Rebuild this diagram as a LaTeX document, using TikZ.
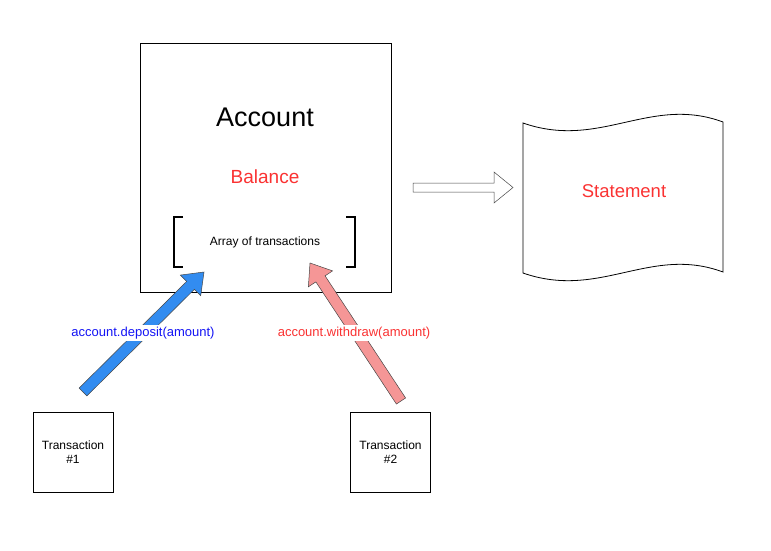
\documentclass[tikz,border=0pt]{standalone}
\usepackage{fontspec}
\setmainfont{Liberation Sans}
\usetikzlibrary{calc}
\definecolor{balred}{RGB}{250,50,50}
\definecolor{depblue}{RGB}{20,20,245}
\definecolor{bluefill}{RGB}{50,140,240}
\definecolor{pinkfill}{RGB}{245,150,150}
\definecolor{arrline}{RGB}{70,70,70}
\tikzset{
  boxnode/.style={draw=black, line width=0.8pt, inner sep=0pt, anchor=north west},
  txnbox/.style={draw=black, line width=0.8pt, minimum width=80pt, minimum height=80pt, inner sep=0pt, align=center, font=\fontsize{12}{14.7}\selectfont},
  bracket/.style={draw=black, line width=1.6pt},
  callarrow/.style={draw=arrline, line width=0.5pt, line join=miter},
  calllabel/.style={fill=white, inner sep=1.5pt, font=\fontsize{13}{15}\selectfont},
}
\begin{document}
\begin{tikzpicture}[x=1pt,y=-1pt]
\useasboundingbox (0,0) rectangle (771,551);
% Account box
\node[boxnode, minimum width=251pt, minimum height=249pt] (acct) at (140,43) {};
\node[font=\fontsize{27}{30}\selectfont] (acctlbl) at (265,117) {Account};
\node[text=balred, font=\fontsize{19}{22}\selectfont] (bal) at (265,177) {Balance};
\node[font=\fontsize{12}{14}\selectfont] (arr) at (265,242) {Array of transactions};
\draw[bracket] (183,217) -- (174,217) -- (174,267) -- (183,267);
\draw[bracket] (346,217) -- (355,217) -- (355,267) -- (346,267);
% Transactions
\node[txnbox] (t1) at (73,452) {Transaction\\\#1};
\node[txnbox] (t2) at (390.5,452) {Transaction\\\#2};
% Statement (wavy document)
\coordinate (s1) at (523,123);
\coordinate (s2) at (723,122);
\coordinate (s3) at (723,272);
\coordinate (s4) at (523,273);
\draw[line width=0.8pt] (s1) .. controls (600,150) and (650,95) .. (s2) -- (s3)
  .. controls (650,245) and (600,300) .. (s4) -- cycle;
\node[text=balred, font=\fontsize{18.5}{22}\selectfont] (stmt) at (624,191) {Statement};
% Hollow arrow
\draw[callarrow, fill=white] (413,183) -- (494,183) -- (494,172) -- (513,187.5) -- (494,203) -- (494,192) -- (413,192) -- cycle;
% Block arrows
\coordinate (bt) at (83,392);
\coordinate (bp) at (204,272);
\coordinate (rt) at (401,401);
\coordinate (rp) at (310,263);
\foreach \tl/\tp/\fc in {bt/bp/bluefill, rt/rp/pinkfill}{
  \coordinate (hb) at ($(\tp)!19pt!(\tl)$);
  \draw[callarrow, fill=\fc]
    ($(\tl)!5.5pt!90:(\tp)$) -- ($(hb)!5.5pt!-90:(\tl)$) -- ($(hb)!14.5pt!-90:(\tl)$)
    -- (\tp) -- ($(hb)!14.5pt!90:(\tl)$) -- ($(hb)!5.5pt!90:(\tl)$)
    -- ($(\tl)!5.5pt!-90:(\tp)$) -- cycle;
}
\node[calllabel, text=depblue] (dep) at (143,333) {account.deposit(amount)};
\node[calllabel, text=balred] (wd) at (354,333) {account.withdraw(amount)};
\end{tikzpicture}
\end{document}
